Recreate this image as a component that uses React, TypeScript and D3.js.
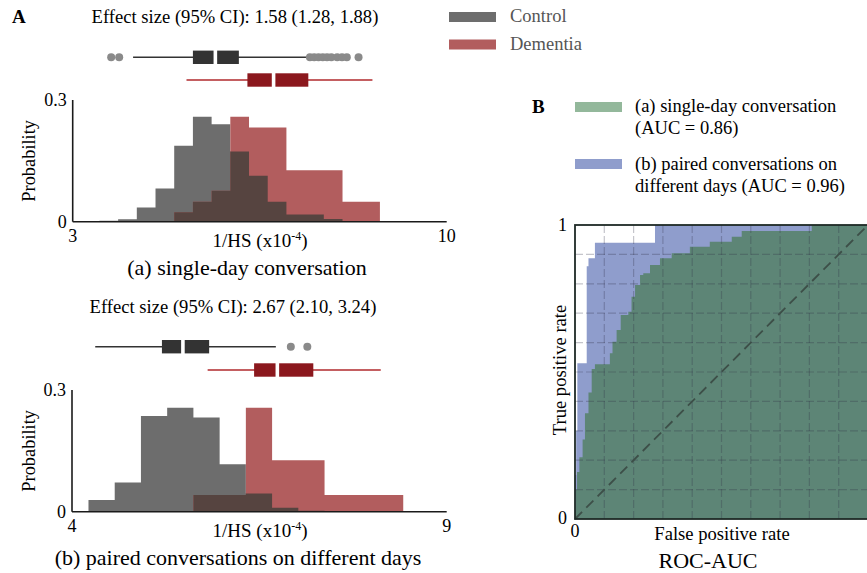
import React from "react";
import * as d3 from "d3";

// histogram bins, panel (a) single-day conversation
const binEdgesA = [3.5, 3.85, 4.2, 4.55, 4.9, 5.25, 5.6, 5.95, 6.3, 6.65, 7.0, 7.35, 7.7, 8.05, 8.4, 8.75];
const controlA = [0.0025, 0.006, 0.035, 0.082, 0.187, 0.259, 0.24, 0.173, 0.113, 0.049, 0.018, 0.018, 0.0066, 0, 0];
const dementiaA = [0, 0, 0, 0, 0.023, 0.049, 0.076, 0.259, 0.232, 0.232, 0.127, 0.127, 0.127, 0.049, 0.049];

// histogram bins, panel (b) paired conversations
const binEdgesB = [4.22, 4.57, 4.92, 5.27, 5.62, 5.97, 6.32, 6.67, 7.02, 7.37, 7.72, 8.07, 8.42];
const controlB = [0.029, 0.072, 0.236, 0.256, 0.232, 0.117, 0.045, 0.0099, 0.0025, 0, 0, 0];
const dementiaB = [0, 0, 0, 0, 0.041, 0.041, 0.256, 0.127, 0.127, 0.041, 0.041, 0.041];

// box plots: [whisker low, q1, median, q3, whisker high]
const controlBoxA = [4.13, 5.25, 5.67, 6.11, 7.41];
const controlOutliersA = [3.72, 3.87, 7.44, 7.52, 7.6, 7.68, 7.76, 7.84, 7.95, 8.04, 8.13, 8.35];
const dementiaBoxA = [5.13, 6.27, 6.76, 7.41, 8.61];
const controlBoxB = [4.31, 5.2, 5.48, 5.83, 6.72];
const controlOutliersB = [6.92, 7.14];
const dementiaBoxB = [5.81, 6.43, 6.74, 7.22, 8.12];

const effectA = "Effect size (95% CI): 1.58 (1.28, 1.88)";
const effectB = "Effect size (95% CI): 2.67 (2.10, 3.24)";

// ROC curves (step after: fpr where a tpr level starts)
const rocFprA = [0, 0.003, 0.007, 0.015, 0.026, 0.034, 0.046, 0.057, 0.068, 0.119, 0.128, 0.142, 0.156, 0.182, 0.193, 0.205, 0.222, 0.233, 0.256, 0.29, 0.33, 0.392, 0.46, 0.535, 0.569, 0.808, 1];
const rocTprA = [0.03, 0.1, 0.16, 0.21, 0.27, 0.36, 0.43, 0.51, 0.526, 0.564, 0.603, 0.643, 0.694, 0.705, 0.756, 0.796, 0.83, 0.836, 0.864, 0.887, 0.904, 0.926, 0.943, 0.96, 0.98, 1, 1];
const rocFprB = [0, 0.004, 0.008, 0.04, 0.046, 0.068, 0.273, 1];
const rocTprB = [0.15, 0.3, 0.53, 0.86, 0.887, 0.94, 1, 1];
const gridTicks = [0.1, 0.2, 0.3, 0.4, 0.5, 0.6, 0.7, 0.8, 0.9];

const FONT = "'Liberation Serif', 'Times New Roman', serif";
const GRAY = "#6d6d6d";
const RED = "#b25d5e";
const DARK = "#564440";

type Scale = d3.ScaleLinear<number, number>;

function stepPath(xs: Scale, ys: Scale, edges: number[], vals: number[]) {
  return (
    d3
      .area<number>()
      .x((d) => xs(d))
      .y0(ys(0))
      .y1((_, i) => ys(vals[Math.min(i, vals.length - 1)]))
      .curve(d3.curveStepAfter)(edges) || ""
  );
}

function Hist(props: {
  edges: number[];
  control: number[];
  dementia: number[];
  xs: Scale;
  ys: Scale;
  ticks: string[];
  sub: string;
  subX: number;
}) {
  const { edges, control, dementia, xs, ys, ticks, sub, subX } = props;
  const overlap = control.map((c, i) => d3.min([c, dementia[i]]) as number);
  const [x0, x1] = xs.range();
  const y0 = ys(0);
  const yTop = ys(0.3);
  return (
    <g fontFamily={FONT}>
      <path d={stepPath(xs, ys, edges, control)} fill={GRAY} />
      <path d={stepPath(xs, ys, edges, dementia)} fill={RED} />
      <path d={stepPath(xs, ys, edges, overlap)} fill={DARK} />
      <line x1={x0} x2={x1} y1={y0} y2={y0} stroke="#1a1a1a" strokeWidth={1.6} />
      <line x1={x0} x2={x0} y1={yTop} y2={y0} stroke="#1a1a1a" strokeWidth={1.6} />
      <text x={x0 - 6} y={yTop + 6} fontSize={18} textAnchor="end">0.3</text>
      <text x={x0 - 6} y={y0 + 6} fontSize={18} textAnchor="end">0</text>
      <text x={x0} y={y0 + 20} fontSize={18} textAnchor="middle">{ticks[0]}</text>
      <text x={x1} y={y0 + 20} fontSize={18} textAnchor="middle">{ticks[1]}</text>
      <text x={260} y={y0 + 25} fontSize={19} textAnchor="middle">
        1/HS (x10<tspan dy={-7} fontSize={12}>-4</tspan>
        <tspan dy={7}>)</tspan>
      </text>
      <text transform={`translate(35,${(y0 + yTop) / 2}) rotate(-90)`} fontSize={18.4} textAnchor="middle">
        Probability
      </text>
      <text x={subX} y={y0 + 53.5} fontSize={22} textAnchor="middle">{sub}</text>
    </g>
  );
}

function Box(props: {
  stats: number[];
  outliers?: number[];
  xs: Scale;
  y: number;
  box: string;
  whisker: string;
}) {
  const { stats, outliers = [], xs, y, box, whisker } = props;
  const [lo, q1, med, q3, hi] = stats;
  return (
    <g>
      <line x1={xs(lo)} x2={xs(hi)} y1={y} y2={y} stroke={whisker} strokeWidth={1.6} />
      <rect x={xs(q1)} y={y - 6.7} width={xs(q3) - xs(q1)} height={13.4} fill={box} />
      <line x1={xs(med)} x2={xs(med)} y1={y - 8} y2={y + 8} stroke="#fff" strokeWidth={3.6} />
      {outliers.map((o, i) => (
        <circle key={i} cx={xs(o)} cy={y} r={4} fill="#8a8a8a" />
      ))}
    </g>
  );
}

function Roc() {
  const xs = d3.scaleLinear().domain([0, 1]).range([575, 868]);
  const ys = d3.scaleLinear().domain([0, 1]).range([519, 225]);
  const roc = (fpr: number[], tpr: number[]) =>
    d3
      .area<number>()
      .x((d) => xs(d))
      .y0(ys(0))
      .y1((_, i) => ys(tpr[i]))
      .curve(d3.curveStepAfter)(fpr) || "";
  return (
    <g fontFamily={FONT}>
      <path d={roc(rocFprB, rocTprB)} fill="#8f9dcc" />
      <path d={roc(rocFprA, rocTprA)} fill="#5d8576" />
      {gridTicks.map((t) => (
        <g key={t} stroke="rgba(45,45,70,0.28)" strokeWidth={1.2} strokeDasharray="8,3">
          <line x1={xs(t)} x2={xs(t)} y1={ys(0)} y2={ys(1)} />
          <line x1={xs(0)} x2={xs(1)} y1={ys(t)} y2={ys(t)} />
        </g>
      ))}
      <line x1={xs(0)} y1={ys(0)} x2={xs(1)} y2={ys(1)} stroke="#3d4f48" strokeWidth={1.8} strokeDasharray="10,6" />
      <rect x={xs(0)} y={ys(1)} width={xs(1) - xs(0)} height={ys(0) - ys(1)} fill="none" stroke="#1e2a26" strokeWidth={1.8} />
      <text x={xs(0) - 8} y={ys(1) + 6} fontSize={18} textAnchor="end">1</text>
      <text x={xs(0) - 8} y={ys(0) + 5} fontSize={18} textAnchor="end">0</text>
      <text x={xs(0)} y={ys(0) + 18} fontSize={18} textAnchor="middle">0</text>
      <text x={722} y={540} fontSize={18.6} textAnchor="middle">False positive rate</text>
      <text transform={`translate(566,370) rotate(-90)`} fontSize={18.6} textAnchor="middle">True positive rate</text>
      <text x={708} y={568} fontSize={22} textAnchor="middle">ROC-AUC</text>
    </g>
  );
}

export default function App() {
  const xsA = d3.scaleLinear().domain([3, 10]).range([72.7, 446.7]);
  const ysA = d3.scaleLinear().domain([0, 0.3]).range([221.7, 100]);
  const xsB = d3.scaleLinear().domain([4, 9]).range([72, 446.7]);
  const ysB = d3.scaleLinear().domain([0, 0.3]).range([511.7, 390]);
  return (
    <svg
      width={867}
      height={573}
      style={{ position: "absolute", left: 0, top: 0, background: "#fff" }}
      fontFamily={FONT}
    >
      <text x={12} y={23} fontSize={19} fontWeight="bold">A</text>
      <text x={235} y={23} fontSize={18.6} textAnchor="middle">{effectA}</text>
      <Box stats={controlBoxA} outliers={controlOutliersA} xs={xsA} y={57.3} box="#333" whisker="#333" />
      <Box stats={dementiaBoxA} xs={xsA} y={80} box="#8b181d" whisker="#b0282c" />
      <Hist edges={binEdgesA} control={controlA} dementia={dementiaA} xs={xsA} ys={ysA} ticks={["3", "10"]} sub="(a) single-day conversation" subX={247} />

      <text x={233} y={313} fontSize={18.6} textAnchor="middle">{effectB}</text>
      <Box stats={controlBoxB} outliers={controlOutliersB} xs={xsB} y={346.7} box="#333" whisker="#333" />
      <Box stats={dementiaBoxB} xs={xsB} y={370} box="#8b181d" whisker="#b0282c" />
      <Hist edges={binEdgesB} control={controlB} dementia={dementiaB} xs={xsB} ys={ysB} ticks={["4", "9"]} sub="(b) paired conversations on different days" subX={238} />

      <rect x={449} y={12} width={47} height={10} fill={GRAY} />
      <text x={510} y={22} fontSize={18.5} fill="#555">Control</text>
      <rect x={449} y={39.5} width={47} height={10} fill={RED} />
      <text x={510} y={49.5} fontSize={18.5} fill="#555">Dementia</text>

      <text x={532} y={113} fontSize={19} fontWeight="bold">B</text>
      <rect x={575} y={102} width={47} height={10} fill="#93b89b" />
      <text x={635} y={112} fontSize={18.5}>(a) single-day conversation</text>
      <text x={635} y={133.5} fontSize={18.5}>(AUC = 0.86)</text>
      <rect x={575} y={159} width={47} height={10} fill="#8f9dcc" />
      <text x={635} y={169.5} fontSize={18.5}>(b) paired conversations on</text>
      <text x={635} y={191.5} fontSize={18.5}>different days (AUC = 0.96)</text>

      <Roc />
    </svg>
  );
}
